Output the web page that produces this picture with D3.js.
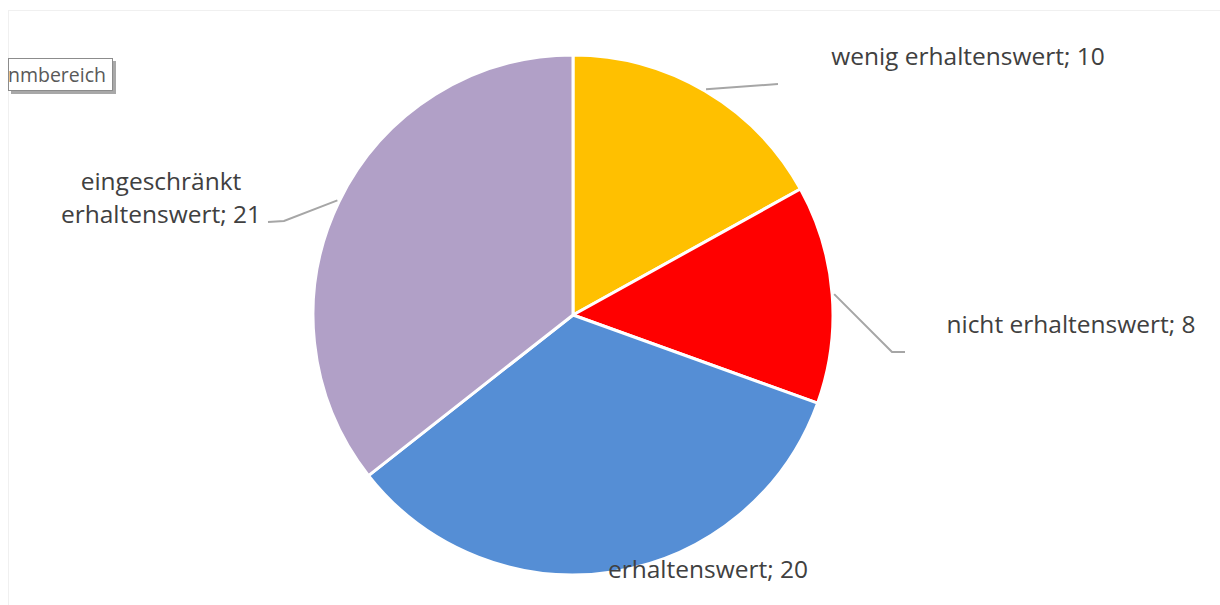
<!DOCTYPE html>
<html>
<head>
<meta charset="utf-8">
<script src="https://cdn.jsdelivr.net/npm/d3@7"></script>
<style>
  body { margin: 0; background: #fff; }
  svg text { font-family: "Open Sans", "Liberation Sans", sans-serif; }
</style>
</head>
<body>
<div id="chart"></div>
<script>
// data
const categories = ["wenig erhaltenswert", "nicht erhaltenswert", "erhaltenswert", "eingeschränkt erhaltenswert"];
const values = [10, 8, 20, 21];
const sliceColors = ["#FFC000", "#FF0000", "#558ED5", "#B1A0C7"];

const width = 1220, height = 605;
const cx = 573, cy = 315, radius = 260;

// label layout: text lines, anchor position, and leader line bends
const labelLayout = [
    {lines: ["wenig erhaltenswert; 10"], x: 968, y: 65, anchor: "middle", leader: [[778, 84]]},
    {lines: ["nicht erhaltenswert; 8"], x: 1071, y: 333, anchor: "middle", leader: [[892, 352], [905, 352]]},
    {lines: ["erhaltenswert; 20"], x: 708, y: 578, anchor: "middle", leader: null},
    {lines: ["eingeschränkt", "erhaltenswert; 21"], x: 161, y: 190, anchor: "middle", leader: [[284, 221], [268, 222]]}
];

const svg = d3.select("#chart").append("svg")
    .attr("width", width)
    .attr("height", height);

// faint chart area frame
svg.append("rect")
    .attr("x", 8.5).attr("y", 10.5)
    .attr("width", width).attr("height", height)
    .attr("fill", "none")
    .attr("stroke", "#f0f0f0");

const data = categories.map((c, i) => ({category: c, value: values[i], color: sliceColors[i], layout: labelLayout[i]}));

const pie = d3.pie().value(d => d.value).sort(null);
const arc = d3.arc().innerRadius(0).outerRadius(radius);
const arcs = pie(data);

const g = svg.append("g").attr("transform", `translate(${cx},${cy})`);

g.selectAll("path.slice")
    .data(arcs)
    .join("path")
    .attr("class", "slice")
    .attr("d", arc)
    .attr("fill", d => d.data.color)
    .attr("stroke", "#fff")
    .attr("stroke-width", 3)
    .attr("stroke-linejoin", "round");

// leader lines from slice edge at mid-angle
const leaderData = arcs.filter(d => d.data.layout.leader);
svg.selectAll("polyline.leader")
    .data(leaderData)
    .join("polyline")
    .attr("class", "leader")
    .attr("fill", "none")
    .attr("stroke", "#A6A6A6")
    .attr("stroke-width", 2)
    .attr("points", d => {
        const mid = (d.startAngle + d.endAngle) / 2;
        const r = radius + 2;
        const start = [cx + r * Math.sin(mid), cy - r * Math.cos(mid)];
        return [start, ...d.data.layout.leader].map(p => p.join(",")).join(" ");
    });

// labels
const labels = svg.selectAll("text.label")
    .data(arcs)
    .join("text")
    .attr("class", "label")
    .attr("text-anchor", d => d.data.layout.anchor)
    .attr("fill", "#404040")
    .style("font-size", "24.5px");

labels.selectAll("tspan")
    .data(d => d.data.layout.lines.map((l, i) => ({text: l, x: d.data.layout.x, y: d.data.layout.y + i * 33})))
    .join("tspan")
    .attr("x", d => d.x)
    .attr("y", d => d.y)
    .text(d => d.text);

// tooltip box at top-left (partly outside the view in the original)
const tip = svg.append("g");
tip.append("rect")
    .attr("x", 11).attr("y", 61)
    .attr("width", 105).attr("height", 33)
    .attr("fill", "#a8a8a8");
tip.append("rect")
    .attr("x", 8.5).attr("y", 58.5)
    .attr("width", 104).attr("height", 32)
    .attr("fill", "#fff")
    .attr("stroke", "#8c8c8c");
tip.append("text")
    .attr("x", 106).attr("y", 82)
    .attr("text-anchor", "end")
    .attr("fill", "#595959")
    .style("font-size", "19.5px")
    .text("nmbereich");
</script>
</body>
</html>
